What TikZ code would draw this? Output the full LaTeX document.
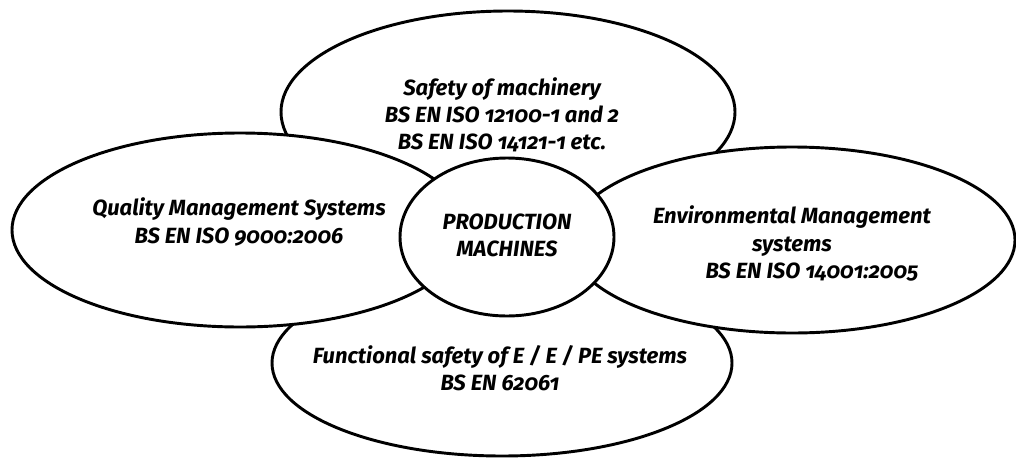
\documentclass[tikz,border=0pt]{standalone}
\usepackage{fontspec}
\setmainfont{Fira Sans}[Numbers=OldStyle]
\usetikzlibrary{shapes.geometric}
\tikzset{
  x=0.75pt, y=-0.75pt,
  blob/.style={ellipse, draw=black, fill=white, line width=2.2pt, inner sep=0pt},
  lbl/.style={align=center, font=\fontsize{16.5}{20.3}\selectfont\bfseries\itshape, inner sep=0pt}
}
\begin{document}
\begin{tikzpicture}
\useasboundingbox (0,0) rectangle (1016,457);
% back ellipses
\node[blob, minimum width=340.5pt, minimum height=151.5pt] (top) at (508,112) {};
\node[blob, minimum width=345pt, minimum height=139.5pt] (bot) at (502,363) {};
% side ellipses
\node[blob, minimum width=342pt, minimum height=145.5pt] (left) at (240,230) {};
\node[blob, minimum width=334.5pt, minimum height=139.5pt] (right) at (792,240) {};
% centre
\node[blob, minimum width=160.5pt, minimum height=118.5pt] (mid) at (507,237) {};
% texts
\node[lbl] (ttop) at (502,115) {Safety of machinery\\BS EN ISO 12100-1 and 2\\BS EN ISO 14121-1 etc.};
\node[lbl] (tleft) at (239,222) {Quality Management Systems\\BS EN ISO 9000:2006};
\node[lbl] (tmid) at (507,235) {PRODUCTION\\MACHINES};
\node[lbl] (tright) at (792,231) {Environmental Management\\systems};
\node[lbl] (tright2) at (812,272) {BS EN ISO 14001:2005};
\node[lbl] (tbot) at (500,368) {Functional safety of E / E / PE systems\\BS EN 62061};
\end{tikzpicture}
\end{document}
